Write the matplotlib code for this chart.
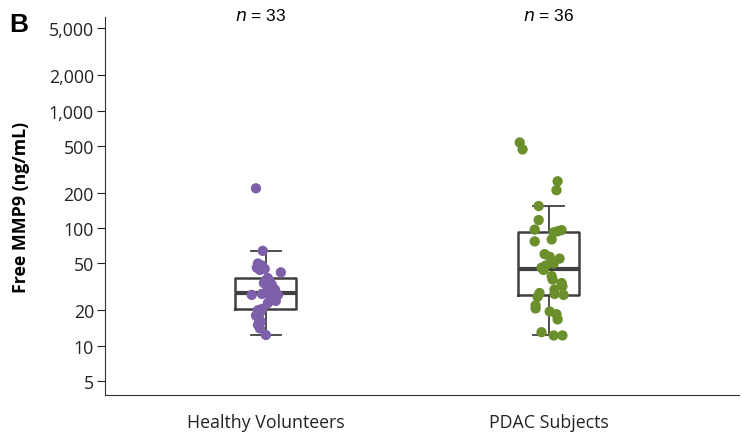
import matplotlib
matplotlib.use("Agg")
import matplotlib.pyplot as plt
import matplotlib.transforms as mtransforms
import numpy as np
from matplotlib.ticker import FixedLocator, FixedFormatter, NullLocator

categories = ["Healthy Volunteers", "PDAC Subjects"]
n_labels = ["33", "36"]

healthy = [218, 64, 50, 48, 46, 45, 44, 42, 37.5, 36, 35, 34, 33, 31, 30, 29, 28,
           27.5, 27, 27, 26, 25, 24, 23, 20.5, 20, 19, 18, 17, 16, 15, 14, 12.3]
healthy_jit = [-0.035, -0.011, -0.028, -0.014, -0.032, -0.004, -0.021, 0.053, 0.007, 0.0,
               0.014, -0.007, 0.021, 0.007, 0.032, 0.014, 0.0, -0.014, -0.05, 0.043,
               0.028, 0.018, 0.035, 0.007, -0.014, -0.028, -0.021, -0.035, -0.025, -0.018,
               -0.028, -0.021, 0.0]

pdac = [535, 467, 250, 210, 154, 117, 97, 96, 94, 92, 80, 77, 60, 57, 55, 50, 48, 46,
        44, 39, 36.5, 34, 32, 30, 28, 27.5, 27, 26, 22, 20.7, 19.5, 18.5, 16.7, 13, 12.2, 12.2]
pdac_jit = [-0.102, -0.092, 0.032, 0.028, -0.035, -0.035, -0.049, 0.046, 0.032, 0.018,
            0.011, -0.049, -0.014, 0.004, 0.039, 0.018, -0.01, -0.025, -0.018, 0.011,
            0.014, 0.046, 0.049, 0.021, -0.032, 0.021, 0.053, -0.039, -0.046, -0.046,
            0.004, 0.028, 0.032, -0.025, 0.018, 0.049]

yticks = [5, 10, 20, 50, 100, 200, 500, 1000, 2000, 5000]
ytick_labels = ["5", "10", "20", "50", "100", "200", "500", "1,000", "2,000", "5,000"]

purple = "#7E5FA9"
green = "#6B8F2A"
boxcol = "#404040"

plt.rcParams['font.family'] = ['Open Sans', 'DejaVu Sans']

fig = plt.figure(figsize=(7.42, 4.39), dpi=100)
ax = fig.add_axes([0.1415, 0.098, 0.855, 0.86])

data = [healthy, pdac]
pos = [0, 1]
ax.boxplot(data, positions=pos, widths=0.215, whis=1.65, showfliers=False,
           patch_artist=False,
           boxprops=dict(color=boxcol, linewidth=1.8),
           whiskerprops=dict(color=boxcol, linewidth=1.3),
           capprops=dict(color=boxcol, linewidth=1.3),
           medianprops=dict(color=boxcol, linewidth=3),
           zorder=2)
for p, vals, jit, c in [(0, healthy, healthy_jit, purple), (1, pdac, pdac_jit, green)]:
    ax.scatter(np.array(jit) + p, vals, s=55, color=c, edgecolors='none', zorder=3)

ax.set_yscale('log')
ax.set_ylim(3.8, 6200)
ax.set_xlim(-0.569, 1.675)
ax.yaxis.set_major_locator(FixedLocator(yticks))
ax.yaxis.set_major_formatter(FixedFormatter(ytick_labels))
ax.yaxis.set_minor_locator(NullLocator())
ax.set_xticks(pos)
ax.set_xticklabels(categories, fontsize=12.8, color='#222222')
ax.tick_params(axis='x', length=0, pad=13)
ax.tick_params(axis='y', length=6, width=0.8, labelsize=12.8, pad=2, colors='#222222')
for s in ['top', 'right']:
    ax.spines[s].set_visible(False)
for s in ['left', 'bottom']:
    ax.spines[s].set_linewidth(0.8)
    ax.spines[s].set_color('#333333')

ax.set_ylabel("Free MMP9 (ng/mL)", fontsize=12.8, fontweight='bold')
ax.yaxis.set_label_coords(-0.118, 0.5)

trans = mtransforms.blended_transform_factory(ax.transData, fig.transFigure)
for p, n in zip(pos, n_labels):
    ax.text(p - 0.02 * (1 - p), 0.963, "$n$ = " + n, transform=trans,
            ha='center', va='center', fontsize=12.5,
            family=['Liberation Sans', 'DejaVu Sans'])

fig.text(0.013, 0.942, "B", fontsize=19, fontweight='bold', family=['Liberation Sans', 'DejaVu Sans'],
         ha='left', va='center')

fig.savefig("out.png", dpi=100)
